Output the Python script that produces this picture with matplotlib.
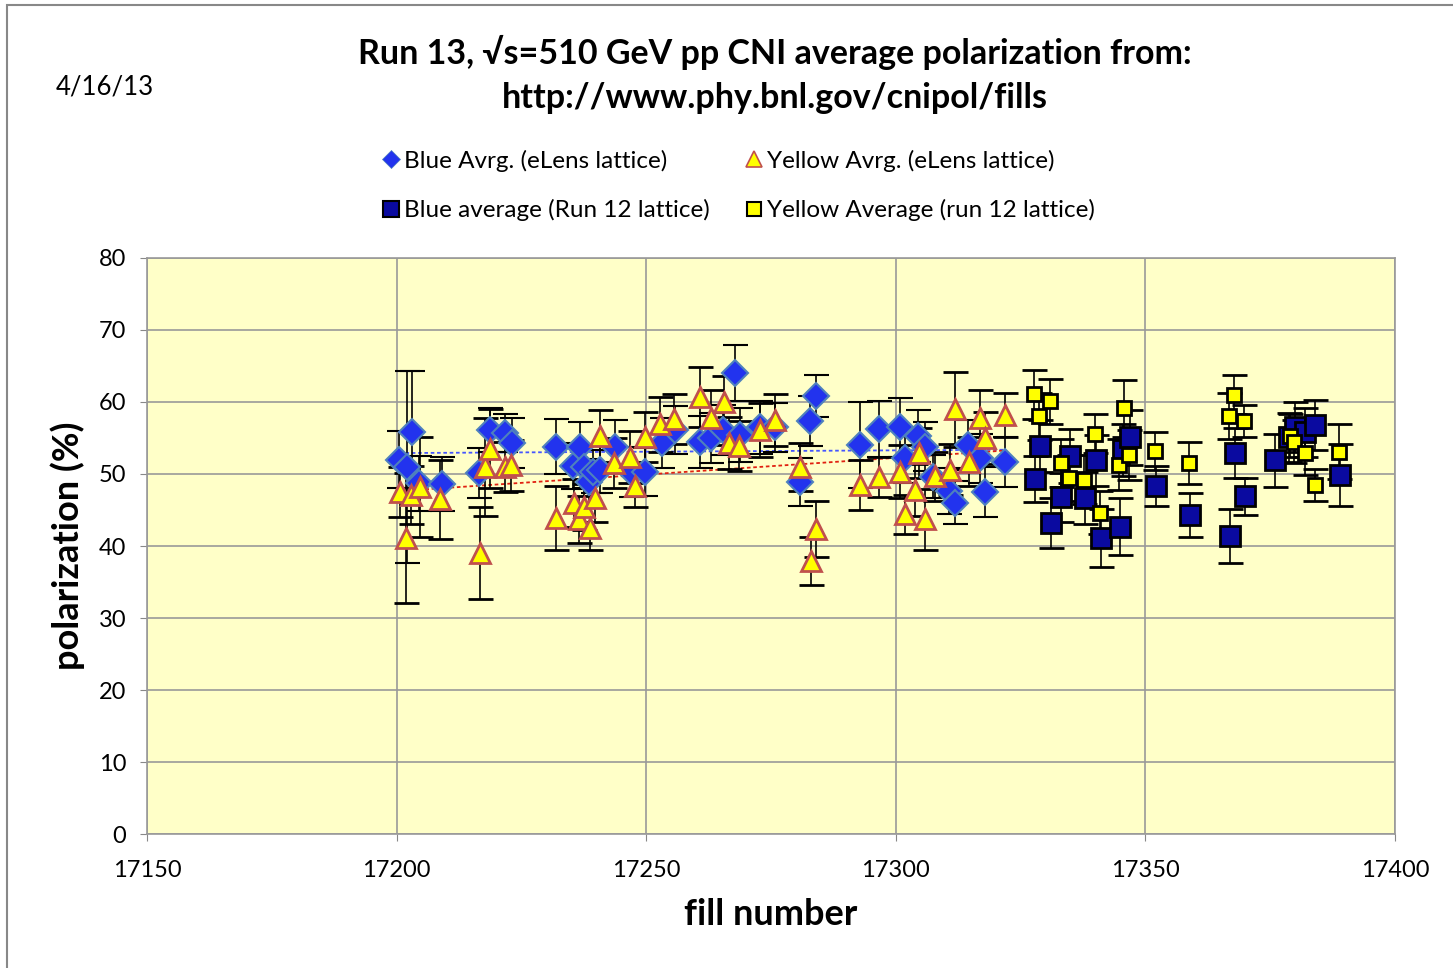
import numpy as np
from matplotlib import pyplot as plt
from matplotlib.lines import Line2D
from matplotlib.patches import Rectangle

# data ------------------------------------------------------------------
# eLens lattice, blue ring
fill_bl  = [17200.5, 17202, 17203, 17204.5, 17209, 17216.5, 17218.7, 17221.7, 17223.1,
            17232, 17235.3, 17236.7, 17237.5, 17238.5, 17239.3, 17240.7, 17243.7, 17247,
            17249.8, 17253.2, 17255.8, 17260.8, 17263, 17265.4, 17267.8, 17268.8, 17272.8,
            17275.8, 17280.8, 17282.8, 17284, 17292.8, 17296.6, 17300.8, 17301.8, 17304.4,
            17305.8, 17307.5, 17310.7, 17311.9, 17314.5, 17316.9, 17317.9, 17321.9]
pol_bl   = [52.0, 51.0, 55.8, 48.7, 48.6, 50.1, 56.1, 55.7, 54.3,
            53.8, 51.1, 53.8, 51.0, 48.9, 50.3, 50.6, 53.8, 50.3,
            50.3, 54.3, 56.1, 54.4, 55.0, 56.1, 64.0, 55.4, 56.5,
            56.5, 48.9, 57.4, 60.8, 54.0, 56.2, 56.5, 52.2, 55.3,
            53.8, 49.6, 47.6, 46.0, 54.0, 52.2, 47.5, 51.7]
err_bl   = [4.0, 13.3, 8.5, 3.8, 3.7, 3.5, 3.0, 2.7, 3.5,
            3.8, 3.2, 3.4, 3.0, 3.2, 3.0, 3.3, 3.7, 3.5,
            3.3, 3.5, 3.3, 3.6, 3.5, 3.5, 3.9, 3.8, 3.7,
            3.4, 3.3, 3.5, 2.9, 6.0, 3.9, 4.1, 3.5, 3.6,
            3.4, 3.0, 3.2, 3.0, 3.5, 3.4, 3.5, 3.5]

# eLens lattice, yellow ring
fill_yl  = [17200.7, 17201.9, 17202.9, 17204.7, 17208.7, 17216.7, 17217.7, 17218.7, 17221.7,
            17222.9, 17232, 17235.5, 17236.5, 17237.5, 17238.7, 17239.7, 17240.7, 17243.5,
            17246.8, 17247.8, 17249.8, 17252.8, 17255.6, 17260.8, 17263, 17265.6, 17266.6,
            17268.6, 17272.8, 17275.8, 17280.8, 17283, 17284, 17292.8, 17296.6, 17300.8,
            17301.8, 17303.8, 17304.6, 17305.8, 17307.9, 17310.9, 17311.9, 17314.7, 17316.9,
            17317.9, 17321.9]
pol_yl   = [47.5, 41.1, 47.1, 48.2, 46.5, 39.0, 51.0, 53.5, 51.0,
            51.2, 43.9, 46.0, 43.7, 45.4, 42.5, 46.7, 55.3, 51.5,
            52.4, 48.3, 55.1, 56.9, 57.6, 60.7, 57.8, 60.0, 54.3,
            53.9, 56.1, 57.5, 51.0, 37.9, 42.4, 48.5, 49.6, 50.3,
            44.4, 47.8, 52.9, 43.7, 49.7, 50.6, 59.0, 51.7, 57.8,
            55.0, 58.2]
err_yl   = [3.5, 9.0, 4.0, 7.0, 5.5, 6.4, 6.8, 5.5, 3.5,
            3.5, 4.4, 3.3, 3.3, 3.2, 3.0, 3.4, 3.6, 3.5,
            3.6, 2.9, 3.5, 3.8, 3.5, 4.2, 3.8, 3.6, 3.6,
            3.5, 3.8, 3.6, 3.3, 3.3, 3.9, 3.5, 2.8, 3.7,
            2.7, 3.6, 3.5, 4.2, 3.4, 3.5, 5.2, 3.4, 3.9,
            3.6, 3.0]

# run 12 lattice, blue ring
fill_b12 = [17327.9, 17328.9, 17331.1, 17333.1, 17334.9, 17337.9, 17340.1, 17341.1, 17344.9,
            17345.5, 17346.9, 17352.1, 17358.9, 17366.9, 17367.9, 17369.9, 17375.9, 17378.8,
            17379.9, 17381.9, 17383.9, 17388.9]
pol_b12  = [49.3, 53.9, 43.2, 46.8, 52.5, 46.7, 51.9, 41.1, 42.7,
            53.3, 55.1, 48.3, 44.3, 41.4, 52.9, 46.9, 51.9, 55.1,
            56.5, 55.8, 56.8, 49.9]
err_b12  = [3.2, 3.6, 3.5, 3.4, 3.8, 3.6, 3.5, 4.0, 4.0,
            3.6, 3.8, 2.8, 3.0, 3.8, 3.5, 2.6, 3.7, 3.4,
            3.5, 3.4, 3.5, 4.3]

# run 12 lattice, yellow ring
fill_y12 = [17327.7, 17328.7, 17330.9, 17333.1, 17334.7, 17337.7, 17339.9, 17340.9, 17344.7,
            17345.7, 17346.7, 17351.9, 17358.7, 17366.7, 17367.7, 17369.7, 17378.9, 17379.7,
            17381.9, 17383.9, 17388.8]
pol_y12  = [61.1, 58.0, 60.1, 51.5, 49.4, 49.2, 55.6, 44.6, 51.3,
            59.1, 52.6, 53.2, 51.5, 58.1, 61.0, 57.4, 55.3, 54.5,
            52.9, 48.5, 53.1]
err_y12  = [3.4, 3.3, 3.1, 3.3, 3.2, 3.4, 2.7, 3.0, 3.5,
            3.9, 3.5, 2.7, 2.9, 3.2, 2.7, 2.2, 3.0, 3.0,
            3.0, 2.25, 3.8]

labels = ['Blue Avrg. (eLens lattice)', 'Yellow Avrg. (eLens lattice)',
          'Blue average (Run 12 lattice)', 'Yellow Average (run 12 lattice)']

# plotting --------------------------------------------------------------
plt.rcParams['font.family'] = ['Lato', 'DejaVu Sans']
fontsize = 17
fig = plt.figure(figsize=(14.53, 9.68), dpi=100)
ax  = fig.add_axes([0.1012, 0.1384, 0.8589, 0.5951])
ax.set_facecolor('#FFFFC8')
fig.patches.append(Rectangle((0.005, -0.01), 0.999, 1.005, transform=fig.transFigure,
                             fill=False, edgecolor='#888888', linewidth=1.5))

ebkw = dict(ecolor='k', elinewidth=1.2, capsize=9, capthick=1.2, linestyle='none', zorder=3)

sty_bl  = dict(marker='D', ms=13, mfc='#2233EE', mec='#4F81BD', mew=1.5)
sty_b12 = dict(marker='s', ms=15, mfc='#0A0AA0', mec='k', mew=2)
sty_yl  = dict(marker='^', ms=15, mfc='#FFFF00', mec='#C0504D', mew=2)
sty_y12 = dict(marker='s', ms=10, mfc='#FFFF00', mec='k', mew=2)

ax.errorbar(fill_bl, pol_bl, yerr=err_bl, **sty_bl, **ebkw)
ax.errorbar(fill_b12, pol_b12, yerr=err_b12, **sty_b12, **ebkw)
ax.errorbar(fill_yl, pol_yl, yerr=err_yl, **sty_yl, **ebkw)
ax.errorbar(fill_y12, pol_y12, yerr=err_y12, **sty_y12, **ebkw)

# linear trend lines for eLens fills
for xs, ys, c in [(fill_bl, pol_bl, '#4455FF'), (fill_yl, pol_yl, '#E02010')]:
    xs = np.array(xs)
    p  = np.polyfit(xs, ys, 1)
    xx = np.array([xs.min(), xs.max()])
    ax.plot(xx, np.polyval(p, xx), linestyle=(0, (2, 1.5)), color=c, linewidth=1.3, zorder=2)

ax.set_xlim([17150, 17400])
ax.set_ylim([0, 80])
ax.set_xticks(np.arange(17150, 17401, 50))
ax.set_yticks(np.arange(0, 81, 10))
ax.grid(True, color='#999999', linewidth=1.2)
ax.set_axisbelow(True)
ax.tick_params(labelsize=fontsize, length=5, color='#888888')
ax.tick_params(axis='x', pad=14)
ax.tick_params(axis='y', pad=10)
for s in ax.spines.values():
    s.set_color('#999999')
    s.set_linewidth(1.2)
ax.set_xlabel('fill number', fontsize=26, fontweight='bold', labelpad=12)
ax.set_ylabel('polarization (%)', fontsize=26, fontweight='bold', labelpad=10)

fig.text(0.533, 0.946, 'Run 13, \u221as=510 GeV pp CNI average polarization from:',
         ha='center', va='center', fontsize=24.5, fontweight='bold')
fig.text(0.533, 0.899, 'http://www.phy.bnl.gov/cnipol/fills',
         ha='center', va='center', fontsize=24.5, fontweight='bold')
fig.text(0.072, 0.91, '4/16/13', ha='center', va='center', fontsize=18.5)

# legend with marker-only handles
handles = [Line2D([], [], linestyle='none', **dict(sty_bl, ms=9, mew=0.5)),
           Line2D([], [], linestyle='none', **dict(sty_b12, ms=12, mew=1.5)),
           Line2D([], [], linestyle='none', **dict(sty_yl, ms=11, mew=1.2)),
           Line2D([], [], linestyle='none', **dict(sty_y12, ms=10, mew=1.5))]
leg_labels = [labels[0], labels[2], labels[1], labels[3]]
fig.legend(handles, leg_labels, loc='center', bbox_to_anchor=(0.507, 0.8085), ncol=2,
           frameon=False, fontsize=17.5, handletextpad=0.05, columnspacing=1.3,
           labelspacing=1.12, handlelength=1.0)

plt.savefig('out.png', dpi=100)
